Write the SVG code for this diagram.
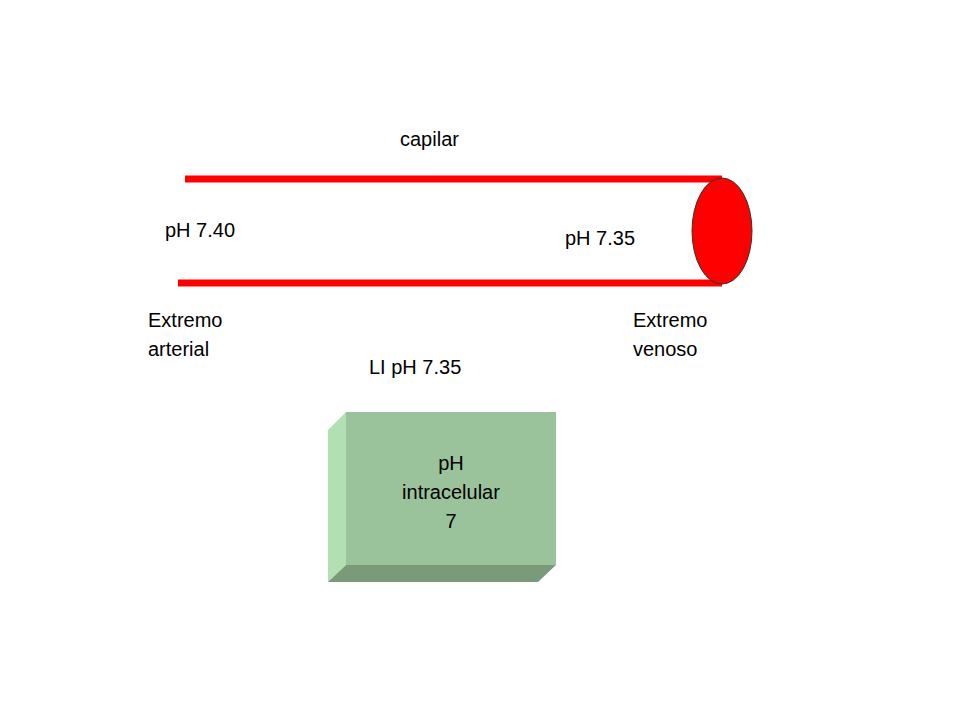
<svg xmlns="http://www.w3.org/2000/svg" width="960" height="720" viewBox="0 0 960 720">
<style>
text{font-family:"Liberation Sans",Arial,sans-serif;font-size:20px;fill:#000}
.tube{stroke:#FF0000;stroke-width:7;fill:none}
</style>
<rect width="960" height="720" fill="#fff"/>
<g id="capilar">
<line class="tube" x1="185" y1="179" x2="722" y2="179"/>
<line class="tube" x1="178" y1="283" x2="722" y2="283"/>
<ellipse cx="722" cy="231" rx="30" ry="53" fill="#FF0000" stroke="#333" stroke-width="1"/>
</g>
<g id="labels">
<text x="400" y="146">capilar</text>
<text x="165" y="237">pH 7.40</text>
<text x="565" y="245">pH 7.35</text>
<text x="148" y="327">Extremo</text>
<text x="148" y="356">arterial</text>
<text x="633" y="327">Extremo</text>
<text x="633" y="356">venoso</text>
<text x="369" y="374">LI pH 7.35</text>
</g>
<g id="celula">
<polygon points="328,430 346,412 346,565 328,582" fill="#B3E0B3"/>
<polygon points="328,582 346,565 556,565 538,582" fill="#7A9A7A"/>
<rect x="346" y="412" width="210" height="153" fill="#9BC39B"/>
<text x="451" y="470" text-anchor="middle">pH</text>
<text x="451" y="499" text-anchor="middle">intracelular</text>
<text x="451" y="528" text-anchor="middle">7</text>
</g>
<g id="connectors"/>
</svg>
